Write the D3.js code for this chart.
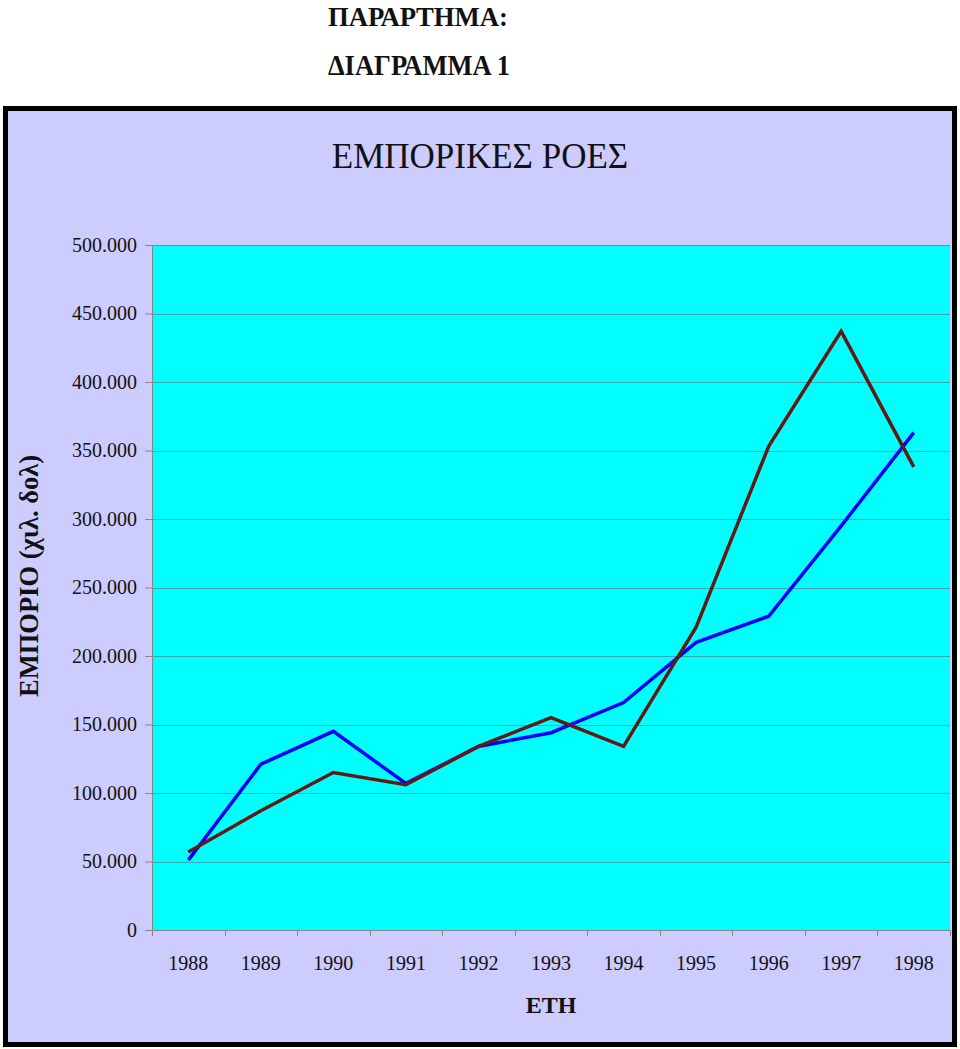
<!DOCTYPE html>
<html>
<head>
<meta charset="utf-8">
<script src="https://cdn.jsdelivr.net/npm/d3@7"></script>
<style>
  body { margin: 0; background: #fff; }
  svg { display: block; }
</style>
</head>
<body>
<svg id="chart"></svg>
<script>
const years = ["1988", "1989", "1990", "1991", "1992", "1993", "1994", "1995", "1996", "1997", "1998"];
// σειρά 1 (μπλε) και σειρά 2 (καφέ), σε χιλ. δολ.
const seriesBlue = [51000, 121000, 145000, 107000, 134000, 144000, 166000, 210000, 229000, 295000, 363000];
const seriesBrown = [57000, 87000, 115000, 106000, 134000, 155000, 134000, 221000, 353000, 437000, 338000];
const yTicks = [0, 50000, 100000, 150000, 200000, 250000, 300000, 350000, 400000, 450000, 500000];

const W = 960, H = 1049;
const plot = { left: 152, right: 950, top: 245, bottom: 930 };
const serif = "'Liberation Serif', 'Times New Roman', serif";

const svg = d3.select("#chart")
    .attr("width", W)
    .attr("height", H);

// επικεφαλίδες σελίδας
svg.append("text")
    .attr("x", 328).attr("y", 26)
    .attr("textLength", 180).attr("lengthAdjust", "spacingAndGlyphs")
    .style("font-family", serif).style("font-weight", "bold").style("font-size", "28px")
    .style("fill", "#111")
    .text("ΠΑΡΑΡΤΗΜΑ:");

svg.append("text")
    .attr("x", 328).attr("y", 75)
    .attr("textLength", 182).attr("lengthAdjust", "spacingAndGlyphs")
    .style("font-family", serif).style("font-weight", "bold").style("font-size", "30px")
    .style("fill", "#111")
    .text("ΔΙΑΓΡΑΜΜΑ 1");

// πλαίσιο γραφήματος
svg.append("rect")
    .attr("x", 5.5).attr("y", 108.5)
    .attr("width", 949).attr("height", 936)
    .attr("fill", "#ccccff")
    .attr("stroke", "#000")
    .attr("stroke-width", 5);

svg.append("rect")
    .attr("x", plot.left).attr("y", plot.top)
    .attr("width", plot.right - plot.left).attr("height", plot.bottom - plot.top)
    .attr("fill", "#00ffff");

const x = d3.scaleBand()
    .domain(years)
    .range([plot.left, plot.right]);

const y = d3.scaleLinear()
    .domain([0, 500000])
    .range([plot.bottom, plot.top]);

// οριζόντιες γραμμές πλέγματος
svg.append("g")
    .selectAll("line")
    .data(yTicks.filter(d => d > 0))
    .enter().append("line")
    .attr("x1", plot.left).attr("x2", plot.right)
    .attr("y1", d => Math.round(y(d)) + 0.5)
    .attr("y2", d => Math.round(y(d)) + 0.5)
    .attr("stroke", "#3aa6ae")
    .attr("stroke-width", 1);

const fmt = d => d === 0 ? "0" : d3.format(",")(d).replace(/,/g, ".");

const yAxis = svg.append("g")
    .attr("transform", `translate(${plot.left},0)`)
    .call(d3.axisLeft(y).tickValues(yTicks).tickFormat(fmt).tickSize(7).tickPadding(8));

const xAxis = svg.append("g")
    .attr("transform", `translate(0,${plot.bottom})`)
    .call(d3.axisBottom(x).tickSize(0).tickPadding(26));

// τικ του άξονα Χ στα όρια των κατηγοριών
svg.append("g")
    .selectAll("line")
    .data(years.concat(["end"]))
    .enter().append("line")
    .attr("x1", (d, i) => Math.round(plot.left + i * x.step()) + 0.5)
    .attr("x2", (d, i) => Math.round(plot.left + i * x.step()) + 0.5)
    .attr("y1", plot.bottom).attr("y2", plot.bottom + 6)
    .attr("stroke", "#888");

[yAxis, xAxis].forEach(g => {
    g.attr("font-family", null);
    g.select(".domain").attr("stroke", "#888");
    g.selectAll(".tick line").attr("stroke", "#888");
    g.selectAll("text")
        .style("font-family", serif)
        .style("font-size", "20px")
        .style("fill", "#111");
});

const line = d3.line()
    .x((d, i) => x(years[i]) + x.bandwidth() / 2)
    .y(d => y(d));

svg.append("path")
    .datum(seriesBlue)
    .attr("fill", "none")
    .attr("stroke", "#0000ff")
    .attr("stroke-width", 3.5)
    .attr("d", line);

svg.append("path")
    .datum(seriesBrown)
    .attr("fill", "none")
    .attr("stroke", "#5e1b16")
    .attr("stroke-width", 3.5)
    .attr("d", line);

// τίτλοι
svg.append("text")
    .attr("x", 480).attr("y", 168)
    .attr("text-anchor", "middle")
    .style("font-family", serif).style("font-size", "35px")
    .style("fill", "#111")
    .text("ΕΜΠΟΡΙΚΕΣ ΡΟΕΣ");

svg.append("text")
    .attr("transform", "translate(38,576) rotate(-90)")
    .attr("text-anchor", "middle")
    .style("font-family", serif).style("font-weight", "bold").style("font-size", "26.5px")
    .style("fill", "#111")
    .text("ΕΜΠΟΡΙΟ (χιλ. δολ)");

svg.append("text")
    .attr("x", 551).attr("y", 1013)
    .attr("text-anchor", "middle")
    .style("font-family", serif).style("font-weight", "bold").style("font-size", "24px")
    .style("fill", "#111")
    .text("ΕΤΗ");
</script>
</body>
</html>
